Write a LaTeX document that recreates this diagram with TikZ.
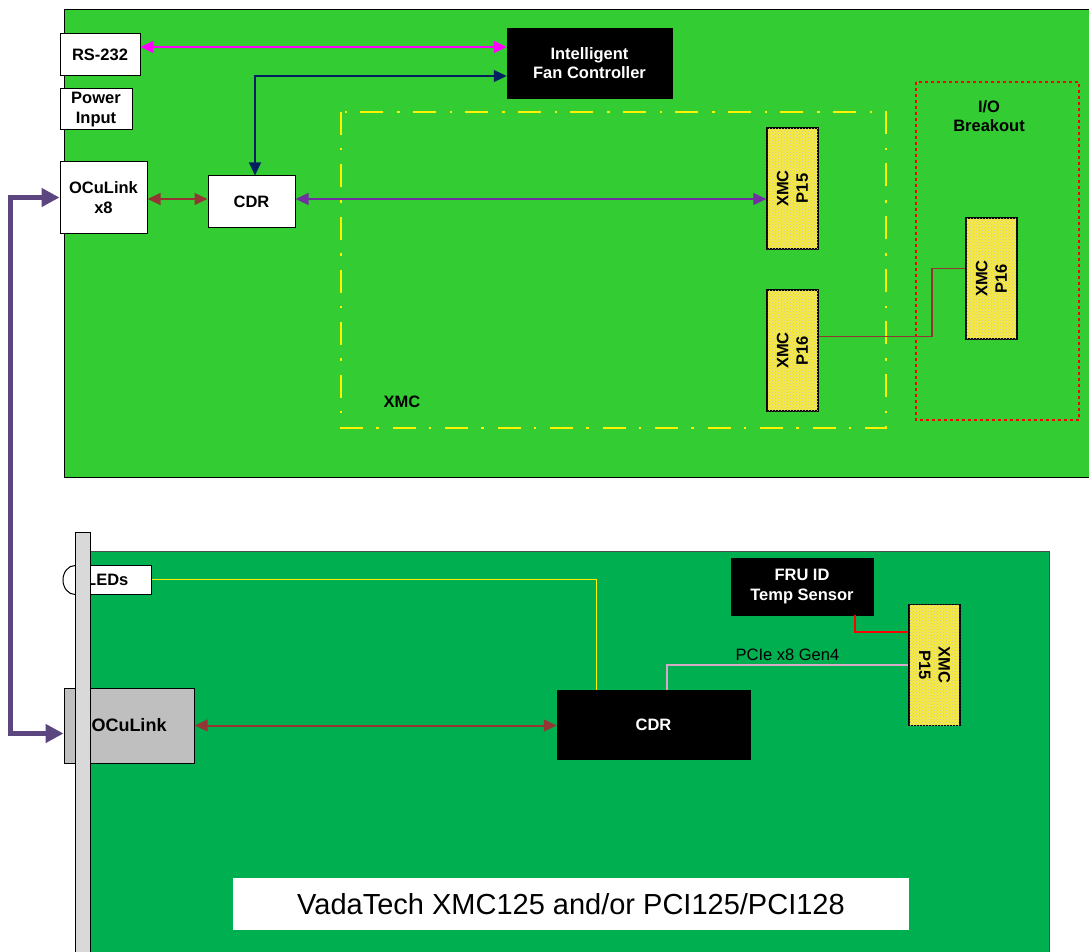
\documentclass[tikz,border=0pt]{standalone}
\usepackage{fontspec}
\setmainfont{Liberation Sans}
\usetikzlibrary{arrows.meta,patterns,calc}
\definecolor{topgreen}{HTML}{33CC33}
\definecolor{botgreen}{HTML}{00B050}
\definecolor{connyellow}{HTML}{F7EA3A}
\definecolor{navyblue}{HTML}{002060}
\definecolor{magline}{HTML}{FF00FF}
\definecolor{purpline}{HTML}{7030A0}
\definecolor{brownline}{HTML}{943634}
\definecolor{cablecol}{HTML}{5B4680}
\definecolor{pcieline}{HTML}{D8A8C8}
\definecolor{panelgray}{HTML}{D9D9D9}
\definecolor{ocugray}{HTML}{BFBFBF}
\newcommand\lblfont{\fontsize{16.5}{19.5}\selectfont\bfseries}
\begin{document}
\begin{tikzpicture}[x=1pt,y=-1pt,
  box/.style={draw=black, line width=1pt, fill=white, inner sep=0pt, align=center, font=\lblfont},
  blackbox/.style={draw=black, fill=black, text=white, inner sep=0pt, align=center, font=\lblfont},
  conn/.style={draw=black, line width=1.2pt, fill=connyellow, minimum width=51, minimum height=121, inner sep=0pt,
    postaction={pattern=crosshatch dots, pattern color=gray!45}},
  conntext/.style={align=center, font=\lblfont, inner sep=0pt},
  lbl/.style={align=center, font=\lblfont, inner sep=0pt},
  tri/.style={arrows={Triangle[length=#1,width=0.9*#1]-Triangle[length=#1,width=0.9*#1]}},
  magarrow/.style={draw=magline, line width=2pt, tri=13pt},
  navyarrow/.style={draw=navyblue, line width=2pt, tri=13pt},
  purparrow/.style={draw=purpline, line width=2pt, tri=13pt},
  brownarrow/.style={draw=brownline, line width=2pt, tri=13pt},
  cable/.style={draw=cablecol, line width=4.5pt, arrows={Triangle[length=18pt,width=18pt]-Triangle[length=18pt,width=18pt]}},
  xmcdash/.style={draw=yellow, line width=2.6pt, dash pattern=on 23pt off 13pt on 2.5pt off 14pt},
  iodash/.style={draw=red, line width=1.5pt, dash pattern=on 3pt off 3pt},
]
\useasboundingbox (0,0) rectangle (1089,952);
\fill[white] (0,0) rectangle (1089,952);

% ---------- top board ----------
\draw[fill=topgreen, line width=0.8pt] (64,9) rectangle (1092,477);

\node[box, minimum width=80, minimum height=42] (rs) at (100,55) {RS-232};
\node[box, minimum width=72, minimum height=41] (pwr) at (96,109.5) {Power\\Input};
\node[box, minimum width=87, minimum height=71] (ocx) at (103.5,197.5) {OCuLink\\x8};
\node[box, minimum width=87, minimum height=51] (cdra) at (251.5,201.5) {CDR};
\node[blackbox, minimum width=165, minimum height=70] (fan) at (589.5,63) {Intelligent\\Fan Controller};

\draw[xmcdash] (341,112) rectangle (886,428);
\node[lbl] (xmclbl) at (402,402) {XMC};

\node[conn] (p15a) at (792.5,188.5) {};
\node[conntext, rotate=90] at (p15a) {XMC\\P15};
\node[conn] (p16a) at (792.5,350.5) {};
\node[conntext, rotate=90] at (p16a) {XMC\\P16};

\draw[iodash] (916,82) rectangle (1079,420);
\node[lbl] (iolbl) at (989,116) {I/O\\Breakout};
\node[conn] (p16b) at (991.5,278.5) {};
\node[conntext, rotate=90] at (p16b) {XMC\\P16};

\draw[magarrow] ([yshift=8pt]rs.east) -- ([yshift=8pt]rs.east -| fan.west);
\draw[navyarrow] ([yshift=-13pt]fan.west) -| ([xshift=3.5pt]cdra.north);
\draw[purparrow] ([yshift=2.5pt]cdra.east) -- ([yshift=2.5pt]cdra.east -| p15a.west);
\draw[brownarrow] ([yshift=-1.5pt]ocx.east) -- ([yshift=-1.5pt]ocx.east -| cdra.west);
\draw[draw=brownline, line width=1.8pt] ([yshift=14pt]p16a.east) -- ++(113,0) |- ([yshift=10pt]p16b.west);

% ---------- bottom board ----------
\draw[draw=gray!60!black, fill=botgreen, line width=0.8pt] (90,551) rectangle (1049,960);
\draw[fill=white, line width=1pt] (75,580) ellipse (12pt and 14.5pt);
\node[box, minimum width=76, minimum height=29] (leds) at (113,579.5) {};
\node[lbl, anchor=west] (ledlbl) at (86,580) {LEDs};
\node[box, fill=ocugray, minimum width=130, minimum height=75, font=\fontsize{18}{20}\selectfont\bfseries] (ocb) at (129,725.5) {OCuLink};
\draw[fill=panelgray, line width=0.8pt] (75,532) rectangle (90,960);

\node[blackbox, minimum width=193, minimum height=69] (cdrb) at (653.5,724.5) {CDR};
\node[blackbox, minimum width=142, minimum height=57] (fru) at (802,586.5) {FRU ID\\Temp Sensor};
\node[conn] (p15b) at (934.5,665) {};
\node[conntext, rotate=-90] at (p15b) {XMC\\P15};

\node[fill=white, minimum width=676, minimum height=52, inner sep=0pt, font=\fontsize{29}{34}\selectfont] (title) at (571,904) {VadaTech XMC125 and/or PCI125/PCI128};

\draw[brownarrow] (ocb.east) -- (ocb.east -| cdrb.west);
\draw[draw=yellow, line width=1.5pt] (leds.east) -| ([xshift=-57pt]cdrb.north);
\draw[draw=pcieline, line width=2pt] ([xshift=13pt]cdrb.north) |- node[pos=0.75, above=3pt, font=\fontsize{16.5}{19}\selectfont, inner sep=0pt] (pcielbl) {PCIe x8 Gen4} (p15b.west);
\draw[draw=red, line width=2pt] ([xshift=53pt]fru.south) |- ([yshift=33pt]p15b.west);

\draw[cable] (ocx.west) -- ++(-49,0) |- ([yshift=-8pt]ocb.west);
\end{tikzpicture}
\end{document}
